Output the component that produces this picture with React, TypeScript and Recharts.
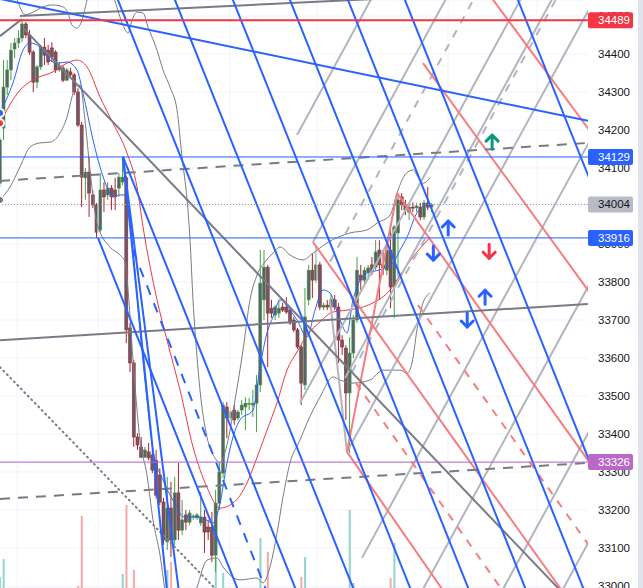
import React from 'react';
import {
  ComposedChart,
  Bar,
  Line,
  XAxis,
  YAxis,
  CartesianGrid,
  ReferenceLine,
  ReferenceDot,
  Cell,
} from 'recharts';

// candles; the first one sits half outside the left edge (bar -1)
const opens = [
  34060,
  34205, 34313, 34358, 34413, 34429, 34442, 34479, 34450, 34405, 34326,
  34366, 34418, 34410, 34416, 34405, 34358, 34363, 34331, 34353, 34345,
  34300, 34213, 34074, 34089, 34029, 34003, 33937, 34042, 34029, 34047,
  34042, 34047, 34063, 34074, 33679, 33587, 33392, 33366, 33339, 33353,
  33345, 33331, 33292, 33221, 33116, 33205, 33121, 33245, 33147, 33187,
  33168, 33181, 33179, 33166, 33181, 33155, 33155, 33081, 33218, 33297,
  33471, 33442, 33463, 33442, 33463, 33471, 33479, 33476, 33481, 33529,
  33753, 33839, 33731, 33713, 33718, 33734, 33734, 33726, 33700, 33674,
  33629, 33529, 33753, 33831, 33805, 33845, 33734, 33739, 33734, 33753,
  33734, 33647, 33626, 33508, 33613, 33700, 33818, 33805, 33826, 33845,
  33839, 33884, 33845, 33831, 33884, 33787, 33929, 34024, 34003, 33984,
  33997, 33995, 33997, 33971, 34008, 33997,
];
const highs = [
  34180,
  34384, 34384, 34429, 34442, 34463, 34487, 34484, 34463, 34410, 34371,
  34424, 34442, 34424, 34431, 34410, 34379, 34371, 34363, 34363, 34350,
  34310, 34221, 34100, 34129, 34042, 34008, 34087, 34063, 34063, 34055,
  34074, 34087, 34129, 34079, 33692, 33595, 33402, 33392, 33366, 33376,
  33355, 33358, 33310, 33232, 33287, 33274, 33287, 33324, 33226, 33200,
  33200, 33189, 33192, 33247, 33200, 33174, 33195, 33253, 33324, 33484,
  33484, 33463, 33476, 33463, 33489, 33497, 33495, 33516, 33555, 33884,
  33884, 33845, 33753, 33739, 33753, 33745, 33760, 33734, 33708, 33679,
  33634, 33784, 33845, 33876, 33897, 33853, 33745, 33753, 33766, 33766,
  33745, 33660, 33634, 33655, 33713, 33866, 33845, 33839, 33845, 33866,
  33910, 33910, 33884, 33897, 33937, 33950, 34034, 34034, 34016, 34008,
  34010, 34008, 34008, 34016, 34050, 34008,
];
const lows = [
  34050,
  34174, 34292, 34331, 34389, 34416, 34431, 34442, 34397, 34300, 34310,
  34358, 34371, 34371, 34379, 34350, 34353, 34326, 34329, 34337, 34292,
  34208, 33997, 34016, 33971, 33995, 33916, 33931, 33984, 34016, 33989,
  33989, 34024, 34055, 33639, 33563, 33366, 33358, 33337, 33337, 33331,
  33297, 33231, 33213, 33108, 33095, 33076, 33108, 33121, 33134, 33147,
  33160, 33174, 33174, 33158, 33087, 33121, 33063, 33037, 33200, 33284,
  33389, 33437, 33424, 33437, 33450, 33410, 33463, 33445, 33405, 33510,
  33700, 33576, 33705, 33700, 33705, 33721, 33716, 33687, 33668, 33624,
  33476, 33516, 33739, 33758, 33797, 33726, 33726, 33726, 33726, 33726,
  33587, 33608, 33437, 33350, 33600, 33692, 33779, 33787, 33805, 33818,
  33831, 33753, 33818, 33818, 33731, 33705, 33813, 33989, 33976, 33963,
  33984, 33984, 33963, 33963, 33989, 33984,
];
const closes = [
  34174,
  34313, 34358, 34410, 34429, 34442, 34479, 34450, 34405, 34326, 34366,
  34418, 34397, 34379, 34392, 34358, 34368, 34331, 34358, 34345, 34300,
  34213, 34076, 34089, 34034, 34003, 33931, 34042, 34024, 34047, 34024,
  34024, 34076, 34076, 33674, 33587, 33392, 33371, 33339, 33358, 33337,
  33305, 33239, 33221, 33121, 33205, 33121, 33245, 33147, 33174, 33168,
  33192, 33184, 33187, 33181, 33142, 33142, 33081, 33218, 33300, 33476,
  33442, 33458, 33437, 33458, 33476, 33481, 33481, 33481, 33529, 33797,
  33839, 33718, 33718, 33734, 33731, 33726, 33721, 33692, 33674, 33629,
  33534, 33708, 33831, 33805, 33845, 33734, 33739, 33734, 33753, 33734,
  33647, 33629, 33508, 33613, 33700, 33831, 33805, 33831, 33837, 33826,
  33879, 33845, 33837, 33884, 33787, 33945, 34016, 34003, 33989, 33997,
  33995, 34000, 33971, 34008, 33997, 34004,
];
const volumes = [
  110,
  290, 0, 0, 0, 0, 0, 0, 0, 0, 0,
  0, 0, 0, 0, 0, 0, 0, 0, 0, 0,
  20, 720, 0, 0, 0, 0, 0, 0, 0, 0,
  0, 0, 140, 830, 0, 180, 0, 0, 0, 0,
  0, 0, 0, 0, 180, 260, 0, 0, 0, 0,
  0, 0, 0, 0, 0, 0, 0, 310, 0, 150,
  0, 0, 0, 0, 0, 0, 0, 0, 0, 500,
  0, 360, 0, 0, 0, 0, 0, 0, 0, 0,
  110, 310, 0, 0, 0, 0, 0, 0, 0, 0,
  0, 0, 0, 780, 50, 0, 0, 0, 0, 0,
  0, 0, 0, 0, 100, 450, 0, 0, 0, 0,
  0, 0, 0, 0, 0, 0,
];

// indicator curves as [bar, price]
const upperBand = [
  [-0.94, 34608], [3.09, 34555], [5.78, 34503], [7.93, 34510], [10.62, 34524], [13.3, 34529],
  [15.99, 34524], [17.34, 34508], [18.41, 34476], [19.75, 34468], [21.1, 34489], [22.44, 34542],
  [24.41, 34608], [27.55, 34608], [29.86, 34542], [32.11, 34476], [33.46, 34455], [34.53, 34489],
  [35.87, 34510], [37.49, 34508], [38.83, 34471], [41.25, 34410], [42.86, 34358], [44.74, 34313],
  [46.62, 34253], [47.97, 34129], [49.32, 34016], [50.13, 33910], [50.92, 33753], [52.0, 33603],
  [52.8, 33516], [54.68, 33392], [56.83, 33337], [58.18, 33324], [60.33, 33384], [62.21, 33489],
  [64.36, 33621], [66.24, 33753], [68.12, 33818], [70.27, 33853], [72.42, 33876], [74.3, 33892],
  [76.99, 33871], [80.48, 33858], [83.17, 33876], [86.93, 33903], [93.11, 33929], [97.68, 33937],
  [100.37, 33955], [103.86, 33976], [106.01, 34042], [107.89, 34082], [110.04, 34095],
  [111.38, 34076], [112.72, 34060], [114.61, 34074],
];
const lowerBand = [
  [-0.94, 34016], [1.75, 34050], [4.43, 34103], [7.12, 34155], [9.81, 34166], [12.5, 34168],
  [15.18, 34192], [17.06, 34234], [18.41, 34287], [19.21, 34313], [20.56, 34318], [21.9, 34226],
  [23.24, 34095], [25.12, 33955], [28.62, 33892], [31.31, 33871], [32.65, 33853], [33.46, 33779],
  [34.8, 33595], [36.68, 33384], [38.56, 33292], [40.17, 33174], [42.05, 33082], [43.4, 32989],
  [45.28, 32910], [48.77, 32910], [52.0, 32997], [54.68, 33068], [57.37, 33074], [58.98, 33050],
  [63.55, 33016], [68.12, 33021], [69.73, 33008], [71.61, 33050], [73.49, 33139], [75.1, 33234],
  [76.99, 33324], [79.67, 33384], [81.55, 33429], [85.05, 33497], [88.54, 33550], [90.42, 33542],
  [93.91, 33534], [98.48, 33542], [101.98, 33568], [106.55, 33568], [108.43, 33560],
  [109.77, 33587], [111.11, 33674], [112.72, 33745], [114.61, 33771],
];
const slowMa = [
  [-0.94, 34218], [4.43, 34305], [7.93, 34332], [13.3, 34353], [17.06, 34376], [19.75, 34384],
  [22.44, 34366], [25.93, 34287], [29.42, 34218], [33.19, 34139], [35.87, 34050], [37.49, 33945],
  [41.25, 33753], [43.93, 33647], [47.43, 33516], [50.92, 33366], [54.68, 33260], [58.18, 33205],
  [61.67, 33218], [65.43, 33271], [67.58, 33324], [70.81, 33410], [73.49, 33482], [76.18, 33568],
  [78.87, 33616], [81.55, 33660], [85.05, 33695], [88.54, 33721], [92.3, 33726], [95.8, 33732],
  [99.29, 33745], [103.86, 33779], [106.55, 33818], [110.04, 33866], [112.72, 33897],
  [114.61, 33918],
];
const fastMa = [
  [-0.94, 34245], [2.55, 34324], [5.24, 34410], [7.12, 34429], [9.81, 34418], [12.5, 34384],
  [14.65, 34376], [17.06, 34379], [19.75, 34358], [21.36, 34297], [24.05, 34174], [25.93, 34103],
  [27.81, 34050], [29.42, 34024], [31.31, 34029], [33.19, 34029], [34.8, 33884], [36.68, 33674],
  [38.56, 33489], [40.17, 33358], [42.86, 33279], [46.62, 33208], [48.23, 33182], [52.8, 33182],
  [56.3, 33166], [58.18, 33218], [60.06, 33324], [61.67, 33392], [63.55, 33437], [67.05, 33463],
  [68.93, 33576], [70.81, 33666], [72.42, 33708], [74.3, 33753], [76.99, 33726], [78.87, 33700],
  [81.55, 33655], [83.71, 33726], [85.86, 33779], [87.73, 33771], [90.42, 33700], [92.3, 33666],
  [93.91, 33753], [97.68, 33824], [101.17, 33832], [104.66, 33850], [106.55, 33884],
  [108.43, 33918], [111.11, 33982], [114.61, 34008],
];

// drawings: [bar1, price1, bar2, price2]
const blueLines = [
  [29.69, 34568, 95.26, 32963], [45.01, 34568, 110.57, 32963], [60.59, 34568, 126.16, 32963],
  [75.91, 34568, 141.48, 32963], [91.5, 34568, 157.06, 32963], [106.81, 34568, 172.38, 32963],
  [137.18, 34568, 202.74, 32963], [32.11, 34129, 79.67, 32963], [25.39, 33916, 64.09, 32963],
  [32.11, 34129, 44.2, 32963], [32.11, 34129, 47.43, 32963], [-0.94, 34545, 157.06, 34224],
];
const blueDashed = [[34.8, 33884, 71.61, 32963]];
const redLines = [
  [112.72, 34376, 157.6, 33771], [129.65, 34568, 157.6, 34197], [105.74, 34034, 160.28, 33287],
  [83.17, 33905, 152.22, 32958], [92.3, 33353, 120.25, 32958], [92.3, 33353, 105.74, 34034],
];
const redDashed = [[94.72, 33534, 136.1, 32960], [111.38, 33739, 157.6, 33103]];
const grayLines = [
  [78.87, 34187, 100.1, 34568], [79.67, 33482, 140.32, 34568], [83.17, 33905, 120.17, 34568],
  [92.3, 33353, 160.15, 34568], [96.33, 33074, 179.63, 34568], [111.11, 32963, 200.6, 34568],
  [132.61, 32963, 222.1, 34568], [148.73, 32963, 238.2, 34568], [91.76, 33547, 148.73, 34568],
  [87.73, 33753, 92.3, 33353],
];
const grayDashed = [[87.73, 33853, 127.66, 34568], [93.65, 33563, 149.8, 34568]];
const darkLines = [
  [-0.94, 33647, 157.06, 33742], [4.43, 34500, 106.55, 34548], [-0.94, 34447, 4.97, 34492],
  [5.51, 34466, 160.28, 32879],
];
const darkDashed = [[-0.94, 34066, 157.06, 34166], [-0.94, 33229, 157.06, 33324]];
const darkDotted = [[-0.94, 33576, 60.86, 32953]];

const arrowsBlueUp = [[119.5, 33942], [129.4, 33760]];
const arrowsBlueDown = [[115.5, 33876], [124.6, 33700]];
const arrowsRedDown = [[130.5, 33881]];
const arrowsGreenUp = [[131.3, 34168]];

const priceTicks = [
  33000, 33100, 33200, 33300, 33400, 33500, 33600, 33700, 33800, 33900, 34000, 34100, 34200,
  34300, 34400, 34500,
];
const labelPrices = [34489, 34129, 34004, 33916, 33326];
const timeGrid = [3.63, 25.39, 60.86, 84.24, 119.44, 143.36];

const tagStyle: Record<number, { bg: string; fg: string; line: string; w: number; dash?: string }> = {
  34489: { bg: '#f23645', fg: '#ffffff', line: '#f23645', w: 2 },
  34129: { bg: '#2962ff', fg: '#ffffff', line: '#2962ff', w: 1 },
  34004: { bg: '#b8bbc4', fg: '#131722', line: '#9598a1', w: 1, dash: '1 2' },
  33916: { bg: '#2962ff', fg: '#ffffff', line: '#2962ff', w: 1 },
  33326: { bg: '#ba68c8', fg: '#ffffff', line: '#ba68c8', w: 1 },
};

const candles = opens.map((o, i) => ({
  x: i - 1,
  open: o,
  high: highs[i],
  low: lows[i],
  close: closes[i],
  vol: volumes[i],
}));
const toPts = (arr: number[][]) => arr.map(([x, v]) => ({ x, v }));

function Candle(props: any) {
  const { x, y, width, height, payload } = props;
  if (!payload || height == null) return null;
  const { open, close, high, low } = payload;
  const cx = x + width / 2;
  const k = high - low ? height / (high - low) : 0;
  const yo = y + (high - open) * k;
  const yc = y + (high - close) * k;
  const up = close >= open;
  const edge = up ? '#43a047' : '#b3202c';
  return (
    <g>
      <line x1={cx} x2={cx} y1={y} y2={y + height} stroke={edge} strokeWidth={1} />
      <rect
        x={cx - 1.5}
        y={Math.min(yo, yc)}
        width={3}
        height={Math.max(Math.abs(yo - yc), 1)}
        fill="#5d606b"
        stroke={edge}
        strokeWidth={0.6}
      />
    </g>
  );
}

function PriceTick(props: any) {
  const { x, y, payload } = props;
  const v = payload.value;
  const tag = tagStyle[v];
  if (!tag) {
    return (
      <text x={x} y={y} dy={4} fill="#131722" fontSize={11.5}>
        {v}
      </text>
    );
  }
  return (
    <g>
      <rect x={x - 10} y={y - 8} width={45} height={16} rx={2} fill={tag.bg} />
      <text x={x} y={y} dy={4} fill={tag.fg} fontSize={11.5}>
        {v}
      </text>
    </g>
  );
}

const arrow = (color: string, up: boolean) => (p: any) => {
  const { cx, cy } = p;
  const s = up ? 1 : -1;
  const tip = cy - 7 * s;
  const tail = cy + 7 * s;
  return (
    <g fill="none" stroke={color} strokeWidth={3} strokeLinecap="round" strokeLinejoin="round">
      <path d={`M${cx - 6},${tip + 6 * s} L${cx},${tip} L${cx + 6},${tip + 6 * s}`} />
      <path d={`M${cx},${tip} L${cx},${tail}`} />
    </g>
  );
};

const segs = (list: number[][], key: string, stroke: string, width: number, dash?: string) =>
  list.map((s, i) => (
    <ReferenceLine
      key={key + i}
      segment={[
        { x: s[0], y: s[1] },
        { x: s[2], y: s[3] },
      ]}
      stroke={stroke}
      strokeWidth={width}
      strokeDasharray={dash}
      strokeLinecap={dash === '1 4' ? 'round' : undefined}
      ifOverflow="hidden"
    />
  ));

export default function App() {
  return (
    <div style={{ position: 'absolute', left: 0, top: 0, width: 643, height: 588, background: '#fff', fontFamily: "'Liberation Sans', Arial, sans-serif" }}>
      <ComposedChart width={643} height={588} data={candles} margin={{ top: 0, right: 0, bottom: 0, left: 0 }}>
        <XAxis type="number" dataKey="x" domain={[-0.94, 157.06]} allowDataOverflow hide />
        <XAxis xAxisId="v" type="number" dataKey="x" domain={[-0.94, 157.06]} allowDataOverflow hide />
        <YAxis
          orientation="right"
          width={55}
          type="number"
          domain={[32994.7, 34542.1]}
          allowDataOverflow
          ticks={[...priceTicks, ...labelPrices]}
          interval={0}
          tickLine={false}
          axisLine={false}
          tickSize={6}
          tickMargin={4}
          tick={<PriceTick />}
        />
        <YAxis yAxisId="vol" hide domain={[0, 5880]} allowDataOverflow />
        <CartesianGrid vertical={false} stroke="#f0f3fa" />
        {timeGrid.map((g) => (
          <ReferenceLine key={'t' + g} x={g} stroke="#f0f3fa" ifOverflow="hidden" />
        ))}

        <Bar xAxisId="v" yAxisId="vol" dataKey="vol" barSize={2} isAnimationActive={false}>
          {candles.map((d, i) => (
            <Cell key={i} fill={d.close >= d.open ? '#92d3cc' : '#f7a9a7'} />
          ))}
        </Bar>
        <Bar dataKey={(d: any) => [d.low, d.high]} barSize={3} shape={<Candle />} isAnimationActive={false} />

        <Line data={toPts(upperBand)} dataKey="v" type="monotone" stroke="#787b86" strokeWidth={1} dot={false} isAnimationActive={false} />
        <Line data={toPts(lowerBand)} dataKey="v" type="monotone" stroke="#787b86" strokeWidth={1} dot={false} isAnimationActive={false} />
        <Line data={toPts(slowMa)} dataKey="v" type="monotone" stroke="#f23645" strokeWidth={1} dot={false} isAnimationActive={false} />
        <Line data={toPts(fastMa)} dataKey="v" type="monotone" stroke="#2962ff" strokeWidth={1} dot={false} isAnimationActive={false} />

        {segs(grayLines, 'g', '#b2b5be', 2)}
        {segs(grayDashed, 'gd', '#b2b5be', 2, '8 8')}
        {segs(redLines, 'r', '#f77c80', 2)}
        {segs(redDashed, 'rd', '#f77c80', 2, '8 8')}
        {segs(darkLines, 'k', '#787b86', 2)}
        {segs(darkDashed, 'kd', '#787b86', 2, '10 8')}
        {segs(darkDotted, 'ko', '#787b86', 2, '1 4')}
        {segs(blueLines, 'b', '#2962ff', 2)}
        {segs(blueDashed, 'bd', '#2962ff', 2, '10 9')}

        {labelPrices.map((p) => (
          <ReferenceLine
            key={'h' + p}
            y={p}
            stroke={tagStyle[p].line}
            strokeWidth={tagStyle[p].w}
            strokeDasharray={tagStyle[p].dash}
            ifOverflow="hidden"
          />
        ))}

        {arrowsBlueUp.map(([x, y], i) => (
          <ReferenceDot key={'bu' + i} x={x} y={y} r={7} shape={arrow('#2962ff', true)} />
        ))}
        {arrowsBlueDown.map(([x, y], i) => (
          <ReferenceDot key={'bdn' + i} x={x} y={y} r={7} shape={arrow('#2962ff', false)} />
        ))}
        {arrowsRedDown.map(([x, y], i) => (
          <ReferenceDot key={'rdn' + i} x={x} y={y} r={7} shape={arrow('#f23645', false)} />
        ))}
        {arrowsGreenUp.map(([x, y], i) => (
          <ReferenceDot key={'gu' + i} x={x} y={y} r={7} shape={arrow('#089981', true)} />
        ))}
      </ComposedChart>
      <div style={{ position: 'absolute', left: 638, top: 0, width: 5, height: 588, background: '#e0e3eb' }} />
    </div>
  );
}
